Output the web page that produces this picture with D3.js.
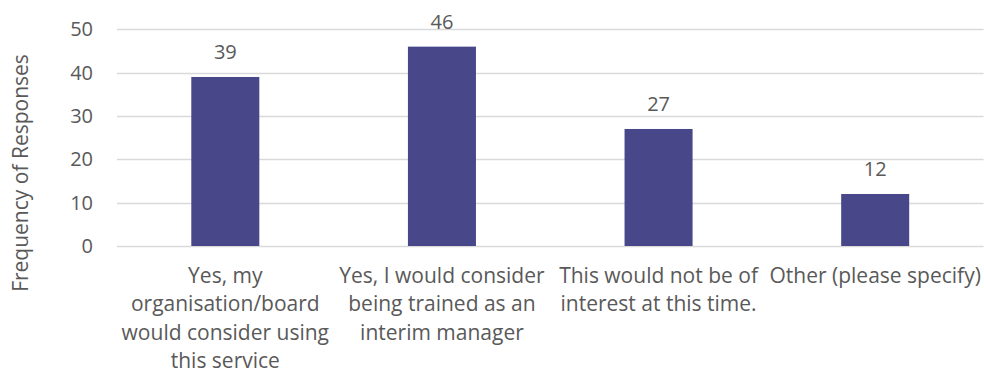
<!DOCTYPE html>
<html>
<head>
<meta charset="utf-8">
<script src="https://cdn.jsdelivr.net/npm/d3@7"></script>
<style>
  html, body { margin: 0; padding: 0; background: #fff; }
  svg { display: block; }
  text { font-family: "Open Sans", "Noto Sans", sans-serif; fill: #595959; }
</style>
</head>
<body>
<svg id="chart" width="984" height="374"></svg>
<script>
// Survey responses
const categories = [
  "Yes, my organisation/board would consider using this service",
  "Yes, I would consider being trained as an interim manager",
  "This would not be of interest at this time.",
  "Other (please specify)"
];
const categoryLines = [
  ["Yes, my", "organisation/board", "would consider using", "this service"],
  ["Yes, I would consider", "being trained as an", "interim manager"],
  ["This would not be of", "interest at this time."],
  ["Other (please specify)"]
];
const responses = [39, 46, 27, 12];
const yTicks = [0, 10, 20, 30, 40, 50];
const yTitle = "Frequency of Responses";

const svg = d3.select("#chart");
const margin = { left: 117, right: 0.5, top: 29.3, bottom: 128 };
const W = 984, H = 374;

const x = d3.scaleBand()
  .domain(categories)
  .range([margin.left, W - margin.right])
  .paddingInner(0.686)
  .paddingOuter(0.343);

const y = d3.scaleLinear()
  .domain([0, 50])
  .range([H - margin.bottom, margin.top]);

// Gridlines
const grid = svg.append("g");
grid.selectAll("line")
  .data(yTicks)
  .join("line")
  .attr("x1", margin.left)
  .attr("x2", W - margin.right)
  .attr("y1", d => Math.round(y(d)) + 0.5)
  .attr("y2", d => Math.round(y(d)) + 0.5)
  .attr("stroke", "#d9d9d9")
  .attr("stroke-width", 1.3);

// Y axis tick labels
const yAxis = svg.append("g")
  .attr("transform", `translate(${margin.left},0)`)
  .call(d3.axisLeft(y).tickValues(yTicks).tickSize(0).tickPadding(24));
yAxis.select(".domain").remove();
yAxis.selectAll("text")
  .attr("font-size", 20)
  .attr("font-family", null)
  .style("fill", "#595959");

// Bars
svg.append("g").selectAll("rect")
  .data(responses)
  .join("rect")
  .attr("x", (d, i) => x(categories[i]))
  .attr("width", x.bandwidth())
  .attr("y", d => y(d))
  .attr("height", d => y(0) - y(d))
  .attr("fill", "#47478a");

// Value labels
svg.append("g").selectAll("text")
  .data(responses)
  .join("text")
  .attr("x", (d, i) => x(categories[i]) + x.bandwidth() / 2)
  .attr("y", d => y(d) - 18)
  .attr("text-anchor", "middle")
  .attr("font-size", 20)
  .text(d => d);

// Category labels
const catG = svg.append("g");
categories.forEach((c, i) => {
  const t = catG.append("text")
    .attr("text-anchor", "middle")
    .attr("font-size", 21);
  categoryLines[i].forEach((line, j) => {
    t.append("tspan")
      .attr("x", x(c) + x.bandwidth() / 2)
      .attr("y", 283 + j * 28.3)
      .text(line);
  });
});

// Y axis title
svg.append("text")
  .attr("transform", "translate(28,173) rotate(-90)")
  .attr("text-anchor", "middle")
  .attr("font-size", 21)
  .text(yTitle);
</script>
</body>
</html>
